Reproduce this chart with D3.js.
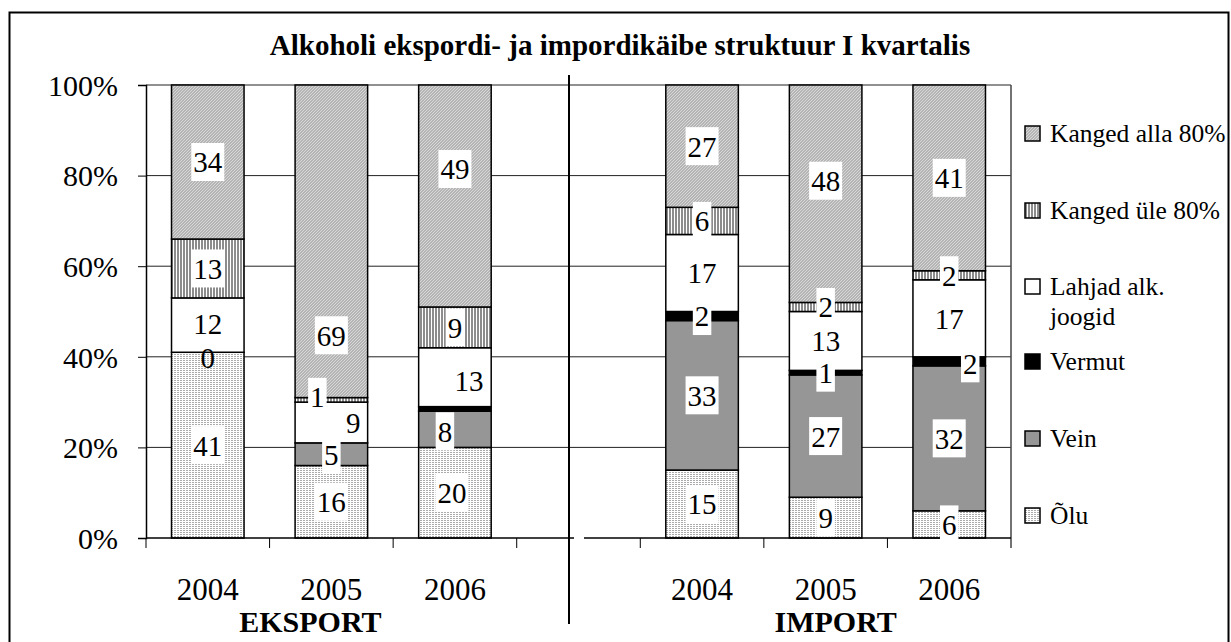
<!DOCTYPE html>
<html>
<head>
<meta charset="utf-8">
<script src="https://cdn.jsdelivr.net/npm/d3@7"></script>
<style>
  body { margin: 0; background: #fff; }
  text { font-family: "Liberation Serif", "Times New Roman", serif; fill: #000; }
</style>
</head>
<body>
<svg width="1231" height="642"></svg>
<script>
// Data (percent of quarter turnover)
var groups = ["EKSPORT", "IMPORT"];
var years  = ["2004", "2005", "2006"];
var seriesNames = ["Õlu", "Vein", "Vermut", "Lahjad alk. joogid", "Kanged üle 80%", "Kanged alla 80%"];

// order: export 2004..2006, import 2004..2006
var olu        = [41, 16, 20, 15,  9,  6];
var vein       = [ 0,  5,  8, 33, 27, 32];
var vermut     = [null, null, 1, 2, 1, 2];
var lahjad     = [12,  9, 13, 17, 13, 17];
var kangedUle  = [13,  1,  9,  6,  2,  2];
var kangedAlla = [34, 69, 49, 27, 48, 41];

var yTicks = [0, 20, 40, 60, 80, 100];

var svg = d3.select("svg"),
    width = +svg.attr("width"),
    height = +svg.attr("height");

var plot = {left: 146, right: 1011, top: 85, bottom: 538};

// 7 slots on the category axis, the middle one stays empty
var slots = ["E2004", "E2005", "E2006", "gap", "I2004", "I2005", "I2006"];
var slotOf = function(i) { return i < 3 ? slots[i] : slots[i + 1]; };

var x = d3.scaleBand()
    .domain(slots)
    .range([plot.left, plot.right])
    .paddingInner(0.413)
    .paddingOuter(0.2065);

var y = d3.scaleLinear().domain([0, 100]).range([plot.bottom, plot.top]);

var values = [olu, vein, vermut, lahjad, kangedUle, kangedAlla];
var fills = ["url(#p-olu)", "#969696", "#000", "#fff", "url(#p-ule)", "url(#p-alla)"];

// manual nudges of some data labels, as in the original
var labelNudge = {
  "0-1": [0, 5], "0-3": [0, -2],
  "1-3": [22, 0], "1-4": [-14, -3], "1-5": [0, 94],
  "2-0": [-3, 0], "2-1": [-10, 2], "2-3": [14, 3], "2-5": [0, -27],
  "4-5": [0, -13], "5-2": [21, 2]
};
var hiddenLabels = {"2-2": true};

// patterns
var defs = svg.append("defs");
var pa = defs.append("pattern").attr("id", "p-alla").attr("patternUnits", "userSpaceOnUse")
    .attr("width", 3).attr("height", 3);
pa.append("rect").attr("width", 3).attr("height", 3).attr("fill", "#b4b4b4");
pa.append("path").attr("d", "M0,3 L3,0 M-1,1 L1,-1 M2,4 L4,2")
    .attr("stroke", "#d8d8d8").attr("stroke-width", 1);

var pu = defs.append("pattern").attr("id", "p-ule").attr("patternUnits", "userSpaceOnUse")
    .attr("width", 3).attr("height", 4);
pu.append("rect").attr("width", 3).attr("height", 4).attr("fill", "#fff");
pu.append("rect").attr("width", 2).attr("height", 4).attr("fill", "#8c8c8c");

var po = defs.append("pattern").attr("id", "p-olu").attr("patternUnits", "userSpaceOnUse")
    .attr("width", 3).attr("height", 2);
po.append("rect").attr("width", 3).attr("height", 2).attr("fill", "#fff");
po.append("rect").attr("width", 2).attr("height", 1).attr("fill", "#ababab");

// outer frame
svg.append("rect")
    .attr("x", 9.5).attr("y", 12.5)
    .attr("width", 1219).attr("height", 700)
    .attr("fill", "none").attr("stroke", "#000").attr("stroke-width", 2);

// title
svg.append("text")
    .attr("x", 620).attr("y", 55)
    .attr("text-anchor", "middle")
    .style("font-size", "29px").style("font-weight", "bold")
    .text("Alkoholi ekspordi- ja impordikäibe struktuur I kvartalis");

// gridlines
svg.append("g").selectAll("line").data(yTicks.filter(function(d) { return d > 0; }))
  .enter().append("line")
    .attr("x1", plot.left).attr("x2", plot.right)
    .attr("y1", function(d) { return y(d); }).attr("y2", function(d) { return y(d); })
    .attr("stroke", "#222").attr("stroke-width", 1);

// right edge line of plot
svg.append("line")
    .attr("x1", plot.right).attr("x2", plot.right)
    .attr("y1", y(100)).attr("y2", plot.bottom + 10)
    .attr("stroke", "#444").attr("stroke-width", 1.5);

// y axis
var yAxis = d3.axisLeft(y).tickValues(yTicks).tickSize(8).tickPadding(20)
    .tickFormat(function(d) { return d + "%"; });
var gY = svg.append("g")
    .attr("transform", "translate(" + plot.left + ",0)")
    .call(yAxis);
gY.select(".domain").attr("stroke", "#000").attr("stroke-width", 1.5);
gY.selectAll(".tick line").attr("stroke", "#000");
gY.selectAll(".tick text")
    .style("font-size", "30px").style("font-family", "Liberation Serif")
    .attr("dy", "0.34em");

// stacked bars
var stacks = [];
for (var i = 0; i < 6; i++) {
  var base = 0;
  for (var s = 0; s < values.length; s++) {
    var v = values[s][i];
    stacks.push({i: i, s: s, v: v, y0: base, y1: base + (v || 0)});
    base += (v || 0);
  }
}

svg.append("g").selectAll("rect").data(stacks.filter(function(d) { return d.v; }))
  .enter().append("rect")
    .attr("x", function(d) { return x(slotOf(d.i)); })
    .attr("width", x.bandwidth())
    .attr("y", function(d) { return y(d.y1); })
    .attr("height", function(d) { return y(d.y0) - y(d.y1); })
    .attr("fill", function(d) { return fills[d.s]; })
    .attr("stroke", "#000").attr("stroke-width", 1.5);

// x axis (broken at the divider)
var gx = svg.append("g");
gx.append("line").attr("x1", plot.left).attr("x2", 574)
    .attr("y1", plot.bottom).attr("y2", plot.bottom).attr("stroke", "#000").attr("stroke-width", 1.5);
gx.append("line").attr("x1", 584).attr("x2", plot.right)
    .attr("y1", plot.bottom).attr("y2", plot.bottom).attr("stroke", "#000").attr("stroke-width", 1.5);
var edges = slots.map(function(d) { return x(d) - x.step() * x.paddingInner() / 2; });
gx.selectAll(".tk").data(edges).enter().append("line")
    .attr("x1", function(d) { return d; }).attr("x2", function(d) { return d; })
    .attr("y1", plot.bottom).attr("y2", plot.bottom + 10)
    .attr("stroke", "#000").attr("stroke-width", 1);

var yearLabels = [];
groups.forEach(function(g, gi) { years.forEach(function(yr, yi) { yearLabels.push({i: gi * 3 + yi, t: yr}); }); });
gx.selectAll(".yl").data(yearLabels).enter().append("text")
    .attr("x", function(d) { return x(slotOf(d.i)) + x.bandwidth() / 2; })
    .attr("y", 600)
    .attr("text-anchor", "middle")
    .style("font-size", "31px")
    .text(function(d) { return d.t; });

gx.selectAll(".gl").data(groups).enter().append("text")
    .attr("x", function(d, gi) { return x(slotOf(gi * 3 + 1)) + x.bandwidth() / 2 + (gi ? 10 : -21); })
    .attr("y", 632)
    .attr("text-anchor", "middle")
    .style("font-size", "30px").style("font-weight", "bold")
    .text(function(d) { return d; });

// divider between export and import
svg.append("line")
    .attr("x1", 569).attr("x2", 569).attr("y1", 75).attr("y2", 624)
    .attr("stroke", "#000").attr("stroke-width", 2);

// data labels
var labels = stacks.filter(function(d) { return d.v !== null && !hiddenLabels[d.i + "-" + d.s]; });
var lg = svg.append("g").selectAll("g").data(labels).enter().append("g")
    .attr("transform", function(d) {
      var n = labelNudge[d.i + "-" + d.s] || [0, 0];
      var cx = x(slotOf(d.i)) + x.bandwidth() / 2 + n[0];
      var cy = (y(d.y0) + y(d.y1)) / 2 + n[1];
      return "translate(" + cx + "," + cy + ")";
    });
lg.append("text")
    .attr("text-anchor", "middle")
    .attr("dy", "0.36em")
    .style("font-size", "29px")
    .text(function(d) { return d.v; });
lg.each(function(d) {
  var g = d3.select(this);
  var w = g.select("text").node().getComputedTextLength();
  if (d.v === 0) return;
  g.insert("rect", "text")
    .attr("x", -w / 2 - 2).attr("y", -19)
    .attr("width", w + 4).attr("height", 38)
    .attr("fill", "#fff");
});

// legend
var legendRows = [
  {s: 5, y: 126}, {s: 4, y: 203}, {s: 3, y: 279},
  {s: 2, y: 354}, {s: 1, y: 431}, {s: 0, y: 508}
];
var leg = svg.append("g").selectAll("g").data(legendRows).enter().append("g")
    .attr("transform", function(d) { return "translate(1025," + d.y + ")"; });
leg.append("rect")
    .attr("width", 15).attr("height", 15)
    .attr("fill", function(d) { return fills[d.s]; })
    .attr("stroke", "#000").attr("stroke-width", 1.5);
leg.append("text")
    .attr("x", 25).attr("y", 16)
    .style("font-size", "25.5px")
    .each(function(d) {
      var t = d3.select(this);
      var name = seriesNames[d.s];
      if (name === "Lahjad alk. joogid") {
        t.append("tspan").attr("x", 25).text("Lahjad alk.");
        t.append("tspan").attr("x", 25).attr("dy", 30).text("joogid");
      } else {
        t.text(name);
      }
    });
</script>
</body>
</html>
